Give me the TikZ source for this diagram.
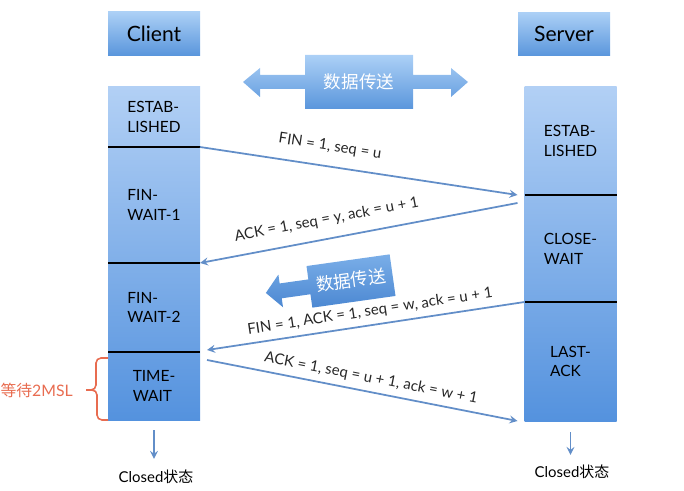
\documentclass[tikz,border=0pt]{standalone}
\usepackage{fontspec}
\setmainfont{Lato}
\newfontfamily\cjk{Noto Sans CJK SC}
\usetikzlibrary{shapes.geometric, arrows}
\definecolor{headlight}{RGB}{172,208,246}
\definecolor{headdark}{RGB}{90,150,220}
\definecolor{midlight}{RGB}{122,174,232}
\definecolor{middark}{RGB}{76,136,210}
\definecolor{barlight}{RGB}{178,208,245}
\definecolor{bardark}{RGB}{84,146,222}
\definecolor{lineblue}{RGB}{98,142,200}
\definecolor{mslred}{RGB}{232,108,80}
\tikzstyle{header} = [rectangle, minimum width=1.84cm, minimum height=0.87cm, text centered, top color=headlight, bottom color=headdark, font=\fontsize{12}{14}\selectfont]
\tikzstyle{bar} = [rectangle, minimum width=1.84cm, top color=barlight, bottom color=bardark]
\tikzstyle{phase} = [rectangle, minimum width=1.84cm, inner sep=0pt, outer sep=0pt, align=left, font=\fontsize{8.8}{11.3}\selectfont]
\tikzstyle{divider} = [line width=1.6pt, black]
\tikzstyle{msg} = [line width=1pt, ->, >=stealth, lineblue]
\tikzstyle{msglabel} = [sloped, above, text=black!85, font=\fontsize{8.5}{10}\selectfont]
\tikzstyle{blockarrow} = [top color=headlight, bottom color=headdark]
\tikzstyle{blocktext} = [text=white, inner sep=0.5pt, font=\cjk\fontsize{10}{12}\selectfont]
\tikzstyle{closed} = [font=\fontsize{8.5}{10}\selectfont]
\tikzstyle{brace} = [mslred, line width=0.9pt, rounded corners=0.1cm]

\begin{document}
\begin{tikzpicture}
            \useasboundingbox (0,0) rectangle (13.68,-9.82);

            \node [header] at (3.08,-0.67) (client) {Client};
            \node [header] at (11.28,-0.68) (server) {Server};

            \node [bar, minimum height=6.66cm] at (3.08,-5.07) (clientbar) {};
            \node [bar, minimum height=6.68cm] at (11.41,-5.08) (serverbar) {};

            \node [phase, minimum height=1.2cm] at (3.08,-2.34) (cest) {ESTAB-\\LISHED};
            \node [phase, minimum height=2.32cm] at (3.08,-4.10) (cfin1) {FIN-\\WAIT-1};
            \node [phase, minimum height=1.78cm] at (3.08,-6.15) (cfin2) {FIN-\\WAIT-2};
            \node [phase, minimum height=1.36cm] at (3.08,-7.72) (ctime) {TIME-\\WAIT};
            \node [phase, minimum height=2.16cm] at (11.41,-2.82) (sest) {ESTAB-\\LISHED};
            \node [phase, minimum height=2.14cm] at (11.41,-4.97) (sclose) {CLOSE-\\WAIT};
            \node [phase, minimum height=2.38cm] at (11.41,-7.23) (slast) {LAST-\\ACK};

            \draw [divider] (cest.south west) -- (cest.south east);
            \draw [divider] (cfin1.south west) -- (cfin1.south east);
            \draw [divider] (cfin2.south west) -- (cfin2.south east);
            \draw [divider] (sest.south west) -- (sest.south east);
            \draw [divider] (sclose.south west) -- (sclose.south east);

            \path [blockarrow] (4.86,-1.64) -- (5.20,-1.36) -- (5.20,-1.50) -- (6.10,-1.50) -- (6.10,-1.10) -- (8.26,-1.10) -- (8.26,-1.50) -- (9.02,-1.50) -- (9.02,-1.36) -- (9.36,-1.64) -- (9.02,-1.94) -- (9.02,-1.78) -- (8.26,-1.78) -- (8.26,-2.18) -- (6.10,-2.18) -- (6.10,-1.78) -- (5.20,-1.78) -- (5.20,-1.94) -- cycle;
            \node [blocktext] at (7.18,-1.64) (datatop) {数据传送};

            \path [blockarrow, top color=midlight, bottom color=middark] (5.317,-5.859) -- (5.568,-5.491) -- (5.593,-5.669) -- (6.167,-5.588) -- (6.130,-5.321) -- (7.793,-5.087) -- (7.910,-5.919) -- (6.247,-6.153) -- (6.209,-5.885) -- (5.635,-5.966) -- (5.660,-6.145) -- cycle;
            \node [blocktext, rotate=8] at (7.02,-5.60) (datamid) {数据传送};

            \draw [msg] (cest.south east) -- node [msglabel, pos=0.4, above=0.13cm] {FIN = 1, seq = u} ([xshift=-0.14cm]sest.south west);
            \draw [msg] ([xshift=-0.14cm,yshift=-0.16cm]sest.south west) -- node [msglabel, pos=0.59, above=0.11cm] {ACK = 1, seq = y, ack = u + 1} (cfin1.south east);
            \draw [msg] (sclose.south west) -- node [msglabel, pos=0.48] {FIN = 1, ACK = 1, seq = w, ack = u + 1} ([xshift=0.14cm,yshift=0.04cm]cfin2.south east);
            \draw [msg] ([xshift=0.14cm,yshift=-0.16cm]cfin2.south east) -- node [msglabel, pos=0.52] {ACK = 1, seq = u + 1, ack = w + 1} ([xshift=-0.14cm]slast.south west);

            \coordinate (msltip) at (1.72,-7.80);
            \draw [brace] ([yshift=-0.12cm]ctime.north west) -- ++(-0.24,0) |- (msltip);
            \draw [brace] (msltip) -- ++(0.22,0) |- (ctime.south west);
            \node [text=mslred, font=\fontsize{9}{11}\selectfont, anchor=east] at ([xshift=-0.14cm]msltip) (wait) {{\cjk 等待}2MSL};

            \node [closed] at (3.12,-9.54) (cclosed) {Closed{\cjk 状态}};
            \node [closed] at (11.44,-9.44) (sclosed) {Closed{\cjk 状态}};
            \draw [msg, shorten >=0.1cm] ([yshift=-0.2cm]ctime.south) -- (ctime.south |- cclosed.north);
            \draw [msg, shorten >=0.08cm] ([yshift=-0.22cm]slast.south) -- (slast.south |- sclosed.north);
\end{tikzpicture}
\end{document}
